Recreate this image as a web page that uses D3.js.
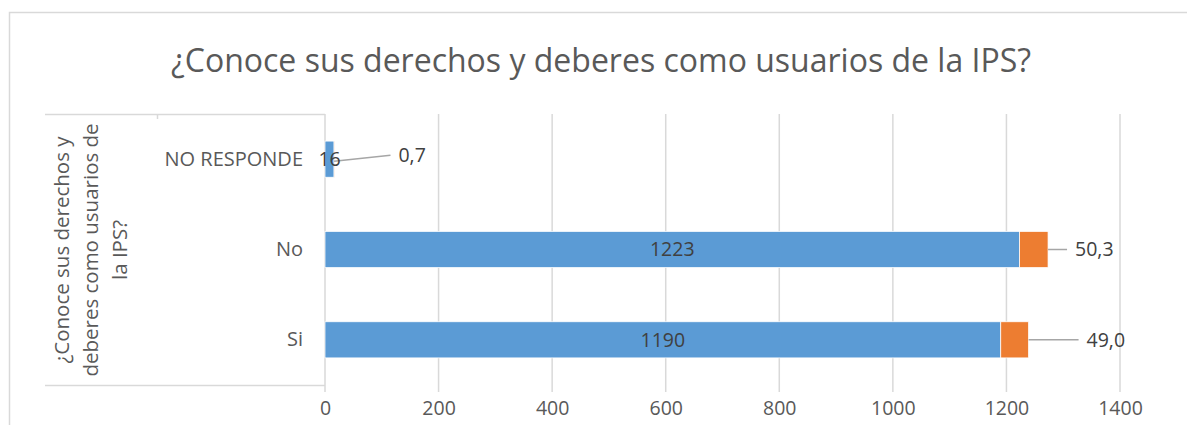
<!DOCTYPE html>
<html lang="es">
    <head>
        <meta charset="utf-8">
        <title>Conoce sus derechos</title>
        <script type="text/javascript" src="https://cdn.jsdelivr.net/npm/d3@7"></script>
        <style type="text/css">
            body { margin: 0; background: white; }
            text { font-family: "Open Sans", sans-serif; }
        </style>
    </head>
    <body>
        <script type="text/javascript">

            // data
            var categories = ["NO RESPONDE", "No", "Si"];
            var frecuencia = [16, 1223, 1190];
            var porcentaje = [0.7, 50.3, 49.0];
            var ticks = [0, 200, 400, 600, 800, 1000, 1200, 1400];
            var titulo = "¿Conoce sus derechos y deberes como usuarios de la IPS?";
            var ejeLineas = ["¿Conoce sus derechos y", "deberes como usuarios de", "la IPS?"];

            var w = 1187;
            var h = 425;
            var plotLeft = 325, plotRight = 1120, plotTop = 114, plotBottom = 385;

            // label offsets for the percentage labels (layout only)
            var pctDx = [64, 27, 58];
            var pctDy = [-4, 0, 0];

            var svg = d3.select("body").append("svg")
                .attr("width", w)
                .attr("height", h);

            svg.append("rect").attr("width", w).attr("height", h).attr("fill", "white");

            // outer chart border
            svg.append("path")
                .attr("d", "M9.5," + h + "V12.5H" + w)
                .attr("fill", "none")
                .attr("stroke", "#d9d9d9")
                .attr("stroke-width", 1.5);

            var xScale = d3.scaleLinear()
                .domain([0, 1400])
                .range([plotLeft, plotRight]);

            var yScale = d3.scaleBand()
                .domain(categories)
                .range([plotTop, plotBottom])
                .paddingInner(0.6)
                .paddingOuter(0.3);

            // title
            svg.append("text")
                .attr("x", 601)
                .attr("y", 72)
                .attr("text-anchor", "middle")
                .attr("font-size", "32px")
                .attr("fill", "#595959")
                .text(titulo);

            // gridlines
            svg.selectAll("line.grid")
                .data(ticks)
                .enter()
                .append("line")
                .attr("class", "grid")
                .attr("x1", function(d) { return xScale(d); })
                .attr("x2", function(d) { return xScale(d); })
                .attr("y1", plotTop)
                .attr("y2", plotBottom + 7)
                .attr("stroke", "#d9d9d9")
                .attr("stroke-width", 1.5);

            // axis title box
            svg.append("path")
                .attr("d", "M45," + (plotTop + 0.5) + "H" + plotLeft + "M45," + (plotBottom + 0.5) + "H" + plotLeft
                    + "M157.5," + plotTop + "v5")
                .attr("fill", "none")
                .attr("stroke", "#d9d9d9")
                .attr("stroke-width", 1.5);

            // x axis tick labels
            var xAxis = d3.axisBottom(xScale)
                .tickValues(ticks)
                .tickSize(0)
                .tickPadding(0)
                .tickFormat(d3.format("d"));

            var gx = svg.append("g")
                .attr("transform", "translate(0," + 408 + ")")
                .call(xAxis);
            gx.select(".domain").remove();
            gx.selectAll("text")
                .attr("font-family", "Open Sans, sans-serif")
                .attr("font-size", "19.5px")
                .attr("fill", "#595959")
                .attr("dy", "0.35em");

            // y axis category labels
            var yAxis = d3.axisLeft(yScale).tickSize(0).tickPadding(0);
            var gy = svg.append("g")
                .attr("transform", "translate(303,0)")
                .call(yAxis);
            gy.select(".domain").remove();
            gy.selectAll("text")
                .attr("font-family", "Open Sans, sans-serif")
                .attr("font-size", "20px")
                .attr("fill", "#595959");

            // rotated axis title
            var axT = svg.append("text")
                .attr("transform", "translate(62," + 250 + ") rotate(-90)")
                .attr("text-anchor", "middle")
                .attr("font-size", "20.5px")
                .attr("fill", "#595959");
            axT.selectAll("tspan")
                .data(ejeLineas)
                .enter()
                .append("tspan")
                .attr("x", 0)
                .attr("y", function(d, i) { return i * 29; })
                .attr("dy", "0.35em")
                .text(function(d) { return d; });

            // blue bars
            svg.selectAll("rect.frec")
                .data(frecuencia)
                .enter()
                .append("rect")
                .attr("class", "frec")
                .attr("x", xScale(0))
                .attr("y", function(d, i) { return yScale(categories[i]); })
                .attr("width", function(d) { return xScale(d) - xScale(0); })
                .attr("height", yScale.bandwidth())
                .attr("fill", "#5b9bd5")
                .attr("stroke", "white")
                .attr("stroke-width", 0.75);

            // orange bars
            svg.selectAll("rect.pct")
                .data(porcentaje)
                .enter()
                .append("rect")
                .attr("class", "pct")
                .attr("x", function(d, i) { return xScale(frecuencia[i]); })
                .attr("y", function(d, i) { return yScale(categories[i]); })
                .attr("width", function(d, i) { return xScale(frecuencia[i] + d) - xScale(frecuencia[i]); })
                .attr("height", yScale.bandwidth())
                .attr("fill", "#ed7d31")
                .attr("stroke", "white")
                .attr("stroke-width", 0.75);

            // leader lines
            svg.selectAll("line.leader")
                .data(porcentaje)
                .enter()
                .append("line")
                .attr("class", "leader")
                .attr("x1", function(d, i) {
                    return i == 0 ? xScale(frecuencia[i]) : xScale(frecuencia[i] + d);
                })
                .attr("y1", function(d, i) { return yScale(categories[i]) + yScale.bandwidth() / 2 + (i == 0 ? 2 : 0); })
                .attr("x2", function(d, i) { return xScale(frecuencia[i] + d) + pctDx[i] - 8; })
                .attr("y2", function(d, i) { return yScale(categories[i]) + yScale.bandwidth() / 2 + pctDy[i]; })
                .attr("stroke", "#a6a6a6")
                .attr("stroke-width", 1.5);

            // value labels
            svg.selectAll("text.frec")
                .data(frecuencia)
                .enter()
                .append("text")
                .attr("class", "frec")
                .attr("x", function(d) { return (xScale(0) + xScale(d)) / 2; })
                .attr("y", function(d, i) { return yScale(categories[i]) + yScale.bandwidth() / 2; })
                .attr("dy", "0.35em")
                .attr("text-anchor", "middle")
                .attr("font-size", "19.5px")
                .attr("fill", "#404040")
                .text(function(d) { return d; });

            svg.selectAll("text.pct")
                .data(porcentaje)
                .enter()
                .append("text")
                .attr("class", "pct")
                .attr("x", function(d, i) { return xScale(frecuencia[i] + d) + pctDx[i]; })
                .attr("y", function(d, i) { return yScale(categories[i]) + yScale.bandwidth() / 2 + pctDy[i]; })
                .attr("dy", "0.35em")
                .attr("font-size", "19.5px")
                .attr("fill", "#404040")
                .text(function(d) { return d.toFixed(1).replace(".", ","); });

        </script>
    </body>
</html>
